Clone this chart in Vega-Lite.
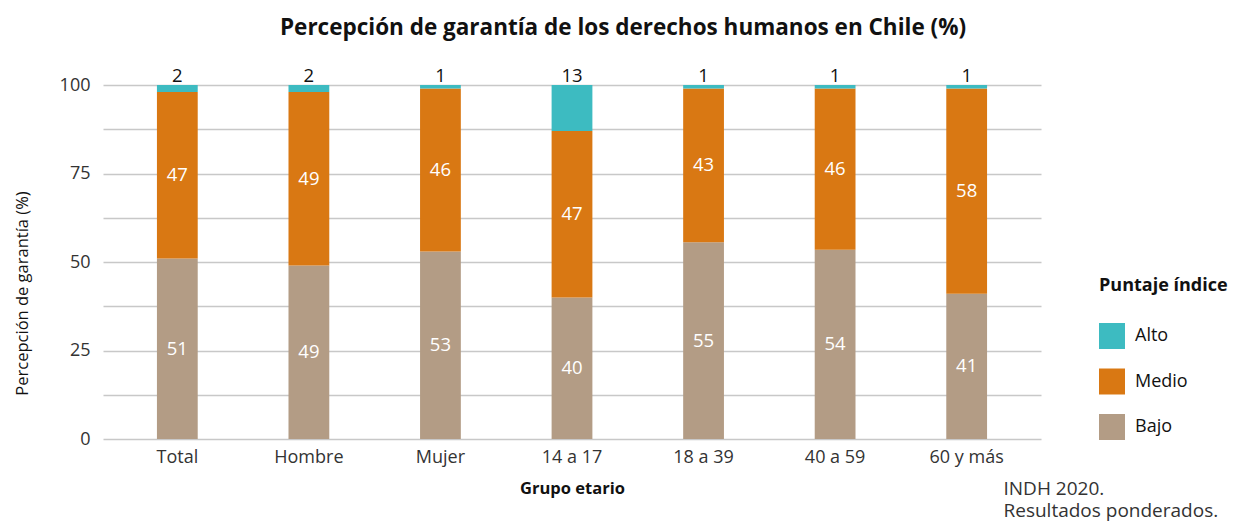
{
  "$schema": "https://vega.github.io/schema/vega-lite/v6.json",
  "width": 938,
  "height": 354,
  "autosize": {"type": "none"},
  "padding": {"left": 103, "top": 85, "right": 193, "bottom": 82},
  "background": "white",
  "title": {
    "text": "Percepción de garantía de los derechos humanos en Chile (%)",
    "font": "Open Sans",
    "fontSize": 22.5,
    "fontWeight": "bold",
    "color": "#111111",
    "anchor": "middle",
    "dx": 51,
    "offset": 10,
    "baseline": "alphabetic"
  },
  "data": {
    "values": [
      {"grupo": "Total", "nivel": "Bajo", "valor": 51},
      {"grupo": "Total", "nivel": "Medio", "valor": 47},
      {"grupo": "Total", "nivel": "Alto", "valor": 2},
      {"grupo": "Hombre", "nivel": "Bajo", "valor": 49},
      {"grupo": "Hombre", "nivel": "Medio", "valor": 49},
      {"grupo": "Hombre", "nivel": "Alto", "valor": 2},
      {"grupo": "Mujer", "nivel": "Bajo", "valor": 53},
      {"grupo": "Mujer", "nivel": "Medio", "valor": 46},
      {"grupo": "Mujer", "nivel": "Alto", "valor": 1},
      {"grupo": "14 a 17", "nivel": "Bajo", "valor": 40},
      {"grupo": "14 a 17", "nivel": "Medio", "valor": 47},
      {"grupo": "14 a 17", "nivel": "Alto", "valor": 13},
      {"grupo": "18 a 39", "nivel": "Bajo", "valor": 55},
      {"grupo": "18 a 39", "nivel": "Medio", "valor": 43},
      {"grupo": "18 a 39", "nivel": "Alto", "valor": 1},
      {"grupo": "40 a 59", "nivel": "Bajo", "valor": 54},
      {"grupo": "40 a 59", "nivel": "Medio", "valor": 46},
      {"grupo": "40 a 59", "nivel": "Alto", "valor": 1},
      {"grupo": "60 y más", "nivel": "Bajo", "valor": 41},
      {"grupo": "60 y más", "nivel": "Medio", "valor": 58},
      {"grupo": "60 y más", "nivel": "Alto", "valor": 1}
    ]
  },
  "transform": [
    {"calculate": "indexof(['Bajo','Medio','Alto'], datum.nivel)", "as": "orden"},
    {"stack": "valor", "groupby": ["grupo"], "sort": [{"field": "orden", "order": "ascending"}], "offset": "normalize", "as": ["s0", "s1"]},
    {"calculate": "datum.s0 * 100", "as": "y0"},
    {"calculate": "datum.s1 * 100", "as": "y1"},
    {"calculate": "(datum.s0 + datum.s1) * 50", "as": "ymid"}
  ],
  "encoding": {
    "x": {
      "field": "grupo",
      "type": "nominal",
      "sort": ["Total", "Hombre", "Mujer", "14 a 17", "18 a 39", "40 a 59", "60 y más"],
      "scale": {"paddingInner": 0.69, "paddingOuter": 0.41},
      "axis": {
        "title": "Grupo etario",
        "titleFont": "Open Sans",
        "titleFontSize": 16.5,
        "titleFontWeight": "bold",
        "titleColor": "#111111",
        "titlePadding": 14,
        "labelFont": "Open Sans",
        "labelFontSize": 18,
        "labelColor": "#333333",
        "labelAngle": 0,
        "labelPadding": 9,
        "ticks": false,
        "domain": false,
        "grid": false
      }
    }
  },
  "layer": [
    {
      "mark": {"type": "bar"},
      "encoding": {
        "y": {
          "field": "y0",
          "type": "quantitative",
          "scale": {"domain": [0, 100], "nice": false},
          "axis": {
            "values": [0, 12.5, 25, 37.5, 50, 62.5, 75, 87.5, 100],
            "labelExpr": "datum.value % 25 === 0 ? datum.label : ''",
            "labelFont": "Open Sans",
            "labelFontSize": 18,
            "labelColor": "#333333",
            "labelPadding": 13,
            "ticks": false,
            "domain": false,
            "grid": true,
            "gridColor": "#c8c8c8",
            "gridWidth": 1.5,
            "title": "Percepción de garantía (%)",
            "titleFont": "Open Sans",
            "titleFontSize": 16.5,
            "titleFontWeight": "normal",
            "titleColor": "#111111",
            "titleX": -81,
            "titleY": 208,
            "titleAlign": "center",
            "titleBaseline": "middle",
            "titleAngle": -90
          }
        },
        "y2": {"field": "y1"},
        "color": {
          "field": "nivel",
          "type": "nominal",
          "scale": {"domain": ["Alto", "Medio", "Bajo"], "range": ["#3dbbc1", "#d97813", "#b39c85"]},
          "legend": {
            "title": "Puntaje índice",
            "orient": "none",
            "legendX": 996,
            "legendY": 192,
            "titleFont": "Open Sans",
            "titleFontSize": 18,
            "titleFontWeight": "bold",
            "titleColor": "#111111",
            "titlePadding": 28,
            "labelFont": "Open Sans",
            "labelFontSize": 18,
            "labelColor": "#111111",
            "labelOffset": 10,
            "symbolType": "square",
            "symbolSize": 676,
            "symbolStrokeWidth": 0,
            "rowPadding": 19.5
          }
        }
      }
    },
    {
      "transform": [{"filter": "datum.nivel !== 'Alto'"}],
      "mark": {"type": "text", "color": "white", "font": "Open Sans", "fontSize": 18.5, "baseline": "middle"},
      "encoding": {
        "y": {"field": "ymid", "type": "quantitative", "axis": null},
        "text": {"field": "valor", "type": "quantitative"}
      }
    },
    {
      "transform": [{"filter": "datum.nivel === 'Alto'"}],
      "mark": {"type": "text", "color": "#111111", "font": "Open Sans", "fontSize": 18.5, "baseline": "alphabetic", "dy": -3},
      "encoding": {
        "y": {
          "field": "y1",
          "type": "quantitative",
          "axis": {
            "orient": "right",
            "labels": false,
            "ticks": false,
            "domain": false,
            "grid": false,
            "title": ["INDH 2020.", "Resultados ponderados."],
            "titleFont": "Open Sans",
            "titleFontSize": 19,
            "titleFontWeight": "normal",
            "titleColor": "#333333",
            "titleAngle": 0,
            "titleAlign": "left",
            "titleBaseline": "alphabetic",
            "titleLineHeight": 22,
            "titleX": -38,
            "titleY": 409
          }
        },
        "text": {"field": "valor", "type": "quantitative"}
      }
    }
  ],
  "resolve": {"axis": {"y": "independent"}},
  "config": {"view": {"stroke": null}}
}
